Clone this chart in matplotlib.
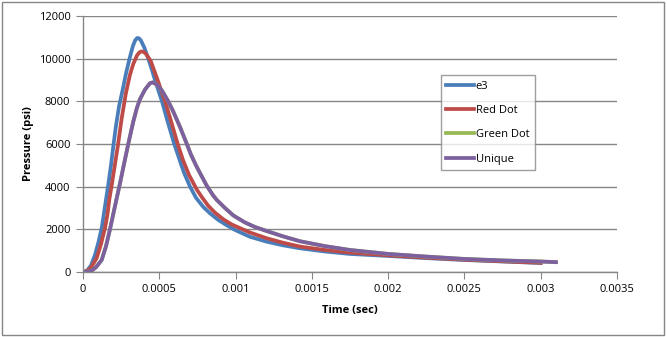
import numpy as np
import matplotlib.pyplot as plt
from matplotlib.patches import Rectangle

# pressure traces, time in seconds, pressure in psi
e3_t = [0, 0.0000262, 0.0000524, 0.0000787, 0.0001016, 0.0001226, 0.0001376, 0.0001507,
        0.0001671, 0.0001835, 0.0001999, 0.0002163, 0.0002360, 0.0002589, 0.0002818,
        0.0003035, 0.0003160, 0.0003277, 0.0003420, 0.0003559, 0.0003680, 0.0003801,
        0.0004031, 0.0004280, 0.0004500, 0.0004719, 0.0005178, 0.0005571, 0.0005984,
        0.0006312, 0.0006624, 0.0007018, 0.0007406, 0.0007885, 0.0008324, 0.0008868,
        0.0009402, 0.0009962, 0.0010945, 0.0012040, 0.0013109, 0.0014223, 0.0015861,
        0.00175, 0.0020, 0.00225, 0.0025, 0.00275, 0.0030]
e3_p = [0, 60, 300, 800, 1400, 2050, 2750, 3380,
        4150, 5000, 5950, 6850, 7750, 8500, 9300,
        9950, 10300, 10600, 10860, 10970, 10950, 10850,
        10500, 10000, 9520, 9000, 8000, 7000, 6000,
        5300, 4650, 4000, 3480, 3050, 2750, 2440,
        2200, 1970, 1650, 1420, 1250, 1110, 960,
        845, 750, 650, 560, 490, 420]

red_t = [0, 0.0000262, 0.0000524, 0.0000898, 0.0001180, 0.0001442, 0.0001606, 0.0001724,
         0.0001901, 0.0002097, 0.0002294, 0.0002536, 0.0002818, 0.0003081, 0.0003297,
         0.0003539, 0.0003700, 0.0003847, 0.0003990, 0.0004129, 0.0004437, 0.0004916,
         0.0005407, 0.0005800, 0.0006207, 0.0006554, 0.0006948, 0.0007472, 0.0007800,
         0.0008212, 0.0008651, 0.0009196, 0.0009766, 0.0010945, 0.0012040, 0.0013109,
         0.0014223, 0.0015861, 0.00175, 0.0020, 0.00225, 0.0025, 0.00275, 0.0030]
red_p = [0, 40, 200, 650, 1300, 2050, 2700, 3380,
         4150, 5050, 5950, 7200, 8400, 9250, 9750,
         10150, 10300, 10340, 10310, 10220, 9900, 8950,
         7950, 7000, 6000, 5250, 4550, 3850, 3500,
         3100, 2780, 2470, 2220, 1850, 1580, 1370,
         1190, 1030, 910, 780, 670, 575, 500, 430]

green_t = [0, 0.0000262, 0.0000570, 0.0000852, 0.0001226, 0.0001507, 0.0001770, 0.0001966,
           0.0002163, 0.0002425, 0.0002687, 0.0002969, 0.0003297, 0.0003539, 0.0003736,
           0.0004064, 0.0004391, 0.0004588, 0.0004850, 0.0005178, 0.0005591, 0.0005899,
           0.0006358, 0.0006751, 0.0007079, 0.0007406, 0.0007734, 0.0008108, 0.0008521,
           0.0008763, 0.0009307, 0.0009851, 0.0010618, 0.0011300, 0.0012040, 0.0013109,
           0.0014223, 0.0015861, 0.00175, 0.0020, 0.00225, 0.0025, 0.00275, 0.0030, 0.0031]
green_p = [0, 10, 60, 220, 560, 1200, 2000, 2650,
           3300, 4150, 5050, 6000, 7050, 7700, 8100,
           8550, 8850, 8890, 8780, 8500, 8000, 7550,
           6800, 6100, 5500, 5000, 4550, 4050, 3600,
           3380, 3000, 2650, 2320, 2100, 1920, 1670,
           1440, 1210, 1030, 845, 720, 610, 540, 490, 460]

unique_t = green_t
unique_p = green_p

series = [
    ("e3", e3_t, e3_p, "#4A7EBB"),
    ("Red Dot", red_t, red_p, "#BE4B48"),
    ("Green Dot", green_t, green_p, "#98B954"),
    ("Unique", unique_t, unique_p, "#7D60A0"),
]

plt.rcParams["font.family"] = ["Open Sans", "DejaVu Sans"]

fig = plt.figure(figsize=(6.67, 3.37), dpi=100)
ax = fig.add_axes([0.1244, 0.193, 0.8006, 0.7595])

for name, t, p, c in series:
    ax.plot(t, p, color=c, lw=2.7, label=name, solid_joinstyle="round")

ax.set_xlim(0, 0.0035)
ax.set_ylim(0, 12000)
ax.set_xticks(np.arange(0, 0.0036, 0.0005))
ax.set_xticklabels(["0", "0.0005", "0.001", "0.0015", "0.002", "0.0025", "0.003", "0.0035"])
ax.set_yticks(np.arange(0, 12001, 2000))
ax.set_yticklabels([str(v) for v in range(0, 12001, 2000)])

grid_c = "#868686"
ax.grid(axis="y", color=grid_c, lw=1)
ax.set_axisbelow(True)
for s in ["top", "right"]:
    ax.spines[s].set_visible(False)
for s in ["left", "bottom"]:
    ax.spines[s].set_color(grid_c)
    ax.spines[s].set_linewidth(1)
ax.tick_params(direction="out", length=5, color=grid_c, labelsize=8, pad=4)

ax.set_xlabel("Time (sec)", fontsize=8, fontweight="bold", labelpad=7)
ax.set_ylabel("Pressure (psi)", fontsize=8, fontweight="bold", labelpad=3.5)

leg = ax.legend(loc="upper left", bbox_to_anchor=(0.670, 0.7695), fontsize=8,
                frameon=True, fancybox=False, handlelength=2.5, handletextpad=0.15,
                labelspacing=1.2, borderpad=0.5, borderaxespad=0)
leg.get_frame().set_edgecolor(grid_c)
leg.get_frame().set_linewidth(1)
for h in leg.get_lines():
    h.set_linewidth(2.7)

# chart area border
fig.patches.append(Rectangle((0.003, 0.005), 0.993, 0.99, transform=fig.transFigure,
                             fill=False, edgecolor=grid_c, lw=1))

fig.savefig("out.png", dpi=100)
